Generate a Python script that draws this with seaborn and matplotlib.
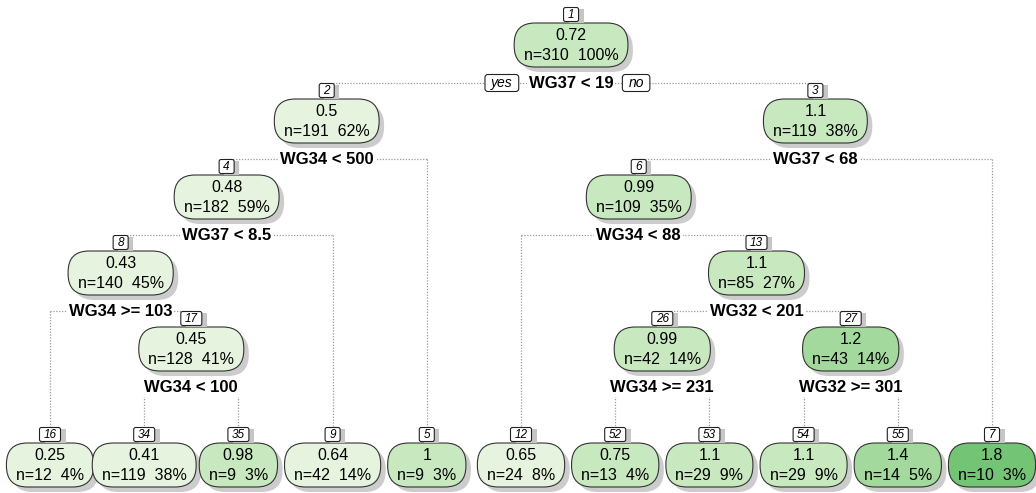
import math
import matplotlib.pyplot as plt
from matplotlib.patches import FancyBboxPatch
import seaborn as sns

# rpart node numbers (children of k are 2k and 2k+1)
node_ids = [1, 2, 4, 8, 16, 17, 34, 35, 9, 5, 3, 6, 12, 13, 26, 52, 53, 27, 54, 55, 7]
node_vals = [0.72, 0.5, 0.48, 0.43, 0.25, 0.45, 0.41, 0.98, 0.64, 1, 1.1, 0.99, 0.65,
             1.1, 0.99, 0.75, 1.1, 1.2, 1.1, 1.4, 1.8]
node_n = [310, 191, 182, 140, 12, 128, 119, 9, 42, 9, 119, 109, 24, 85, 42, 13, 29,
          43, 29, 14, 10]
node_pct = [100, 62, 59, 45, 4, 41, 38, 3, 14, 3, 38, 35, 8, 27, 14, 4, 9, 14, 9, 5, 3]
split_ids = [1, 2, 4, 8, 17, 3, 6, 13, 26, 27]
split_text = ['WG37 < 19', 'WG34 < 500', 'WG37 < 8.5', 'WG34 >= 103', 'WG34 < 100',
              'WG37 < 68', 'WG34 < 88', 'WG32 < 201', 'WG34 >= 231', 'WG32 >= 301']

sns.set_style('white')
plt.rcParams['font.family'] = ['Liberation Sans', 'DejaVu Sans']
plt.rcParams['text.color'] = 'black'

fig = plt.figure(figsize=(10.36, 4.93), dpi=100)
ax = fig.add_axes([0, 0, 1, 1])
ax.set_xlim(0, 1036)
ax.set_ylim(493, 0)
ax.axis('off')
rend = fig.canvas.get_renderer()

info = {k: (v, n, p) for k, v, n, p in zip(node_ids, node_vals, node_n, node_pct)}
splits = dict(zip(split_ids, split_text))


def children(k):
    return [c for c in (2 * k, 2 * k + 1) if c in info]


leaves = []


def walk(k):
    ch = children(k)
    if not ch:
        leaves.append(k)
        return
    for c in ch:
        walk(c)


walk(1)

xs = {}
for i, k in enumerate(leaves):
    xs[k] = 50 + i * 94.2


def place(k):
    ch = children(k)
    if ch:
        xs[k] = (place(ch[0]) + place(ch[1])) / 2
    return xs[k]


place(1)


def ypos(k):
    if not children(k):
        return 465
    return 45 + 76 * int(math.log2(k))


def box_color(v):
    if v < 0.7:
        return '#e6f4df'
    if v < 1.15:
        return '#c8e9c0'
    if v < 1.6:
        return '#a3d99c'
    return '#74c476'


BOX_H = 44
line_kw = dict(color='#9a9a9a', lw=0.9, linestyle=(0, (1, 1.3)), zorder=0)


def text_width(s, **kw):
    t = ax.text(0, 0, s, **kw)
    w = t.get_window_extent(rend).width
    t.remove()
    return w


def tag(x, yc, s, size, h, shadow=True):
    w = max(text_width(s, fontsize=size, style='italic') + 8, 15)
    if shadow:
        ax.add_patch(FancyBboxPatch((x - w / 2 + 5, yc - h / 2 + 1), w, h,
                                    boxstyle='square,pad=0', fc='#c6c6c6', ec='none', zorder=3))
    ax.add_patch(FancyBboxPatch((x - w / 2, yc - h / 2), w, h,
                                boxstyle='round,pad=0,rounding_size=2', fc='white',
                                ec='#222222', lw=0.8, zorder=4))
    ax.text(x, yc + 0.5, s, fontsize=size, style='italic', ha='center', va='center', zorder=5)
    return w


for k in node_ids:
    v, n, p = info[k]
    x, y = xs[k], ypos(k)
    line2 = f'n={n}  {p}%'
    w = text_width(line2, fontsize=11.5) + 19
    top = y - BOX_H / 2
    ax.add_patch(FancyBboxPatch((x - w / 2 + 5, top + 5), w, BOX_H,
                                boxstyle='round,pad=0,rounding_size=21', fc='#cccccc',
                                ec='none', zorder=1))
    ax.add_patch(FancyBboxPatch((x - w / 2, top), w, BOX_H,
                                boxstyle='round,pad=0,rounding_size=21', fc=box_color(v),
                                ec='#333333', lw=0.8, zorder=2))
    ax.text(x, y - 9, f'{v:g}', fontsize=11.5, ha='center', va='center', zorder=5)
    ax.text(x, y + 11, line2, fontsize=11.5, ha='center', va='center', zorder=5)
    tag(x, top - 8.5, str(k), 8.5, 14)

    if k in splits:
        sy = y + BOX_H / 2 + 16
        ax.text(x, sy, splits[k], fontsize=12, fontweight='bold', ha='center', va='center',
                zorder=5, bbox=dict(fc='white', ec='none', pad=1.5))
        left, right = children(k)
        ax.plot([xs[left], xs[right]], [sy, sy], **line_kw)
        for c in (left, right):
            ax.plot([xs[c], xs[c]], [sy, ypos(c) - BOX_H / 2 - 15], **line_kw)
        if k == 1:
            sw = text_width(splits[k], fontsize=12, fontweight='bold')
            yw = text_width('yes', fontsize=10, style='italic') + 12
            nw = text_width('no', fontsize=10, style='italic') + 12
            for s, cx in (('yes', x - sw / 2 - 10 - yw / 2), ('no', x + sw / 2 + 9 + nw / 2)):
                ww = yw if s == 'yes' else nw
                ax.add_patch(FancyBboxPatch((cx - ww / 2, sy - 8.5), ww, 17,
                                            boxstyle='round,pad=0,rounding_size=3', fc='white',
                                            ec='#222222', lw=0.8, zorder=4))
                ax.text(cx, sy, s, fontsize=10, style='italic', ha='center', va='center', zorder=5)

fig.savefig('out.png', dpi=100)
